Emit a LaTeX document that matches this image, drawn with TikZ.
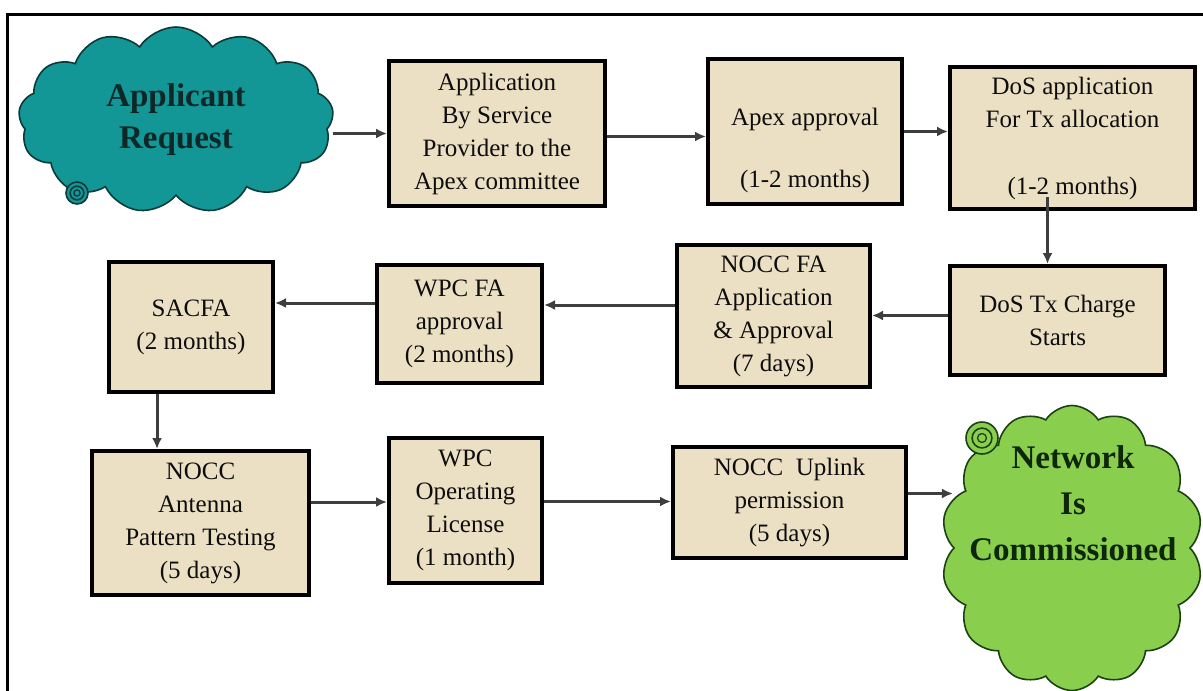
\documentclass[tikz,border=0pt]{standalone}
\usepackage{fontspec}
\setmainfont{Liberation Serif}
\usetikzlibrary{shapes.symbols,arrows.meta}
\definecolor{parchment}{RGB}{236,224,196}
\definecolor{tealcloud}{RGB}{18,150,150}
\definecolor{tealline}{RGB}{10,58,58}
\definecolor{tealtext}{RGB}{14,40,40}
\definecolor{greencloud}{RGB}{138,206,78}
\definecolor{greenline}{RGB}{28,66,18}
\definecolor{greentext}{RGB}{14,38,10}
\definecolor{arrowgray}{RGB}{62,62,62}
\newcommand{\Swirl}[4]{
    \draw[#4, line width=1.6pt, fill=#3] (#1) circle (#2);
    \draw[#4, line width=1.6pt] (#1) circle (0.62*#2);
    \draw[#4, line width=1.3pt] (#1) circle (0.28*#2);
}

\begin{document}
\begin{tikzpicture}[x=1pt, y=-1pt,
    box/.style={draw=black, line width=4pt, fill=parchment, text=black!95,
        align=center, inner sep=0pt, font=\fontsize{25}{33}\selectfont},
    flow/.style={draw=arrowgray, line width=3pt, -{Latex[length=11pt,width=10pt]}},
    puff/.style={cloud, cloud puffs=13, cloud puff arc=115, cloud ignores aspect,
        line width=1.6pt, inner sep=0pt, align=center,
        font=\fontsize{33}{42}\bfseries\selectfont}]
    \useasboundingbox (0,0) rectangle (1203,691);
    \draw[line width=3pt] (7,691) -- (7,14) -- (1203,14);

    % clouds
    \node[puff, draw=tealline, fill=tealcloud, text=tealtext,
        minimum width=315pt, minimum height=186pt] (request) at (176,120) {Applicant\\Request};
    \Swirl{77,193}{11pt}{tealcloud}{tealline}
    \node[puff, cloud puffs=14, draw=greenline, fill=greencloud,
        minimum width=262pt, minimum height=285pt] (network) at (1072,548) {};
    \node[align=center, text=greentext, font=\fontsize{33}{46}\bfseries\selectfont]
        (networktext) at (1073,503) {Network\\Is\\Commissioned};
    \Swirl{982,438}{16pt}{greencloud}{greenline}

    % steps
    \node[box, minimum width=216pt, minimum height=145pt] (service) at (497,133.5)
        {Application\\By Service\\Provider to the\\Apex committee};
    \node[box, minimum width=194pt, minimum height=145pt, text height=117pt] (apex) at (805,131.5)
        {Apex approval\\[29pt](1-2 months)};
    \node[box, minimum width=245pt, minimum height=142pt] (dosapp) at (1072.5,138)
        {DoS application\\For Tx allocation\\[34pt](1-2 months)};
    \node[box, minimum width=215pt, minimum height=109pt] (dostx) at (1057.5,320.5)
        {DoS Tx Charge\\Starts};
    \node[box, minimum width=193pt, minimum height=142pt] (noccfa) at (773.5,316)
        {NOCC FA\\Application\\\& Approval\\(7 days)};
    \node[box, minimum width=165pt, minimum height=118pt] (wpcfa) at (459.5,324)
        {WPC FA\\approval\\(2 months)};
    \node[box, minimum width=164pt, minimum height=130pt] (sacfa) at (191,327)
        {SACFA\\(2 months)};
    \node[box, minimum width=217pt, minimum height=144pt] (antenna) at (200.5,523)
        {NOCC\\Antenna\\Pattern Testing\\(5 days)};
    \node[box, minimum width=153pt, minimum height=145pt] (licence) at (465.5,510.5)
        {WPC\\Operating\\License\\(1 month)};
    \node[box, minimum width=233pt, minimum height=111pt] (uplink) at (789.5,502.5)
        {NOCC\ \ Uplink\\permission\\(5 days)};

    % arrows
    \draw[flow] (request.east |- service.west) -- (service.west);
    \draw[flow] ([yshift=-3pt]service.east) -- ([yshift=-3pt]service.east -| apex.west);
    \draw[flow] (apex.east) -- (apex.east -| dosapp.west);
    \coordinate (drop) at ([xshift=-10pt]dostx.north);
    \draw[flow] ([yshift=14pt]dosapp.south -| drop) -- (drop);
    \draw[flow] ([yshift=5pt]dostx.west) -- ([yshift=5pt]dostx.west -| noccfa.east);
    \draw[flow] ([yshift=11pt]noccfa.west) -- ([yshift=11pt]noccfa.west -| wpcfa.east);
    \draw[flow] ([yshift=21pt]wpcfa.west) -- ([yshift=21pt]wpcfa.west -| sacfa.east);
    \draw[flow] ([xshift=-34pt]sacfa.south) -- ([xshift=-34pt]sacfa.south |- antenna.north);
    \draw[flow] ([yshift=21pt]antenna.east) -- ([yshift=21pt]antenna.east -| licence.west);
    \draw[flow] ([yshift=9pt]licence.east) -- ([yshift=9pt]licence.east -| uplink.west);
    \draw[flow] ([yshift=9pt]uplink.east) -- ([yshift=9pt]uplink.east -| network.west);
\end{tikzpicture}
\end{document}
